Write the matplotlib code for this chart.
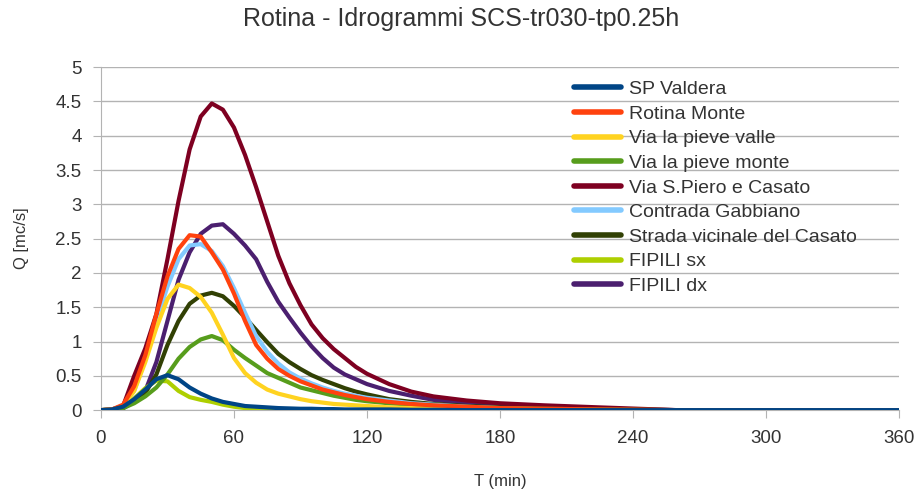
import numpy as np
import matplotlib
matplotlib.use("Agg")
import matplotlib.pyplot as plt
from matplotlib.ticker import FuncFormatter

plt.rcParams['font.family'] = ['Liberation Sans', 'DejaVu Sans']

# -----------------------------
# Dati
# -----------------------------
t_min = [0, 5, 10, 15, 20, 25, 30, 35, 40, 45, 50, 55, 60, 65, 70, 75, 80,
         85, 90, 95, 100, 105, 110, 115, 120, 130, 140, 150, 165, 180, 200, 225, 260, 300, 360]

sp_valdera = [0, 0.01, 0.05, 0.16, 0.30, 0.45, 0.51, 0.45, 0.33, 0.24, 0.17, 0.12, 0.09, 0.06, 0.05, 0.04, 0.03,
              0.025, 0.02, 0.02, 0.015, 0.015, 0.01, 0.01, 0.01, 0.01, 0.005, 0.005, 0, 0, 0, 0, 0, 0, 0]
rotina_monte = [0, 0.01, 0.08, 0.35, 0.80, 1.40, 1.95, 2.35, 2.55, 2.53, 2.30, 2.05, 1.70, 1.30, 0.95, 0.75, 0.60,
                0.50, 0.42, 0.36, 0.30, 0.26, 0.22, 0.19, 0.16, 0.12, 0.09, 0.07, 0.05, 0.03, 0.02, 0.01, 0, 0, 0]
pieve_valle = [0, 0.01, 0.06, 0.28, 0.70, 1.20, 1.62, 1.83, 1.78, 1.65, 1.42, 1.10, 0.76, 0.54, 0.40, 0.30, 0.24,
               0.20, 0.16, 0.13, 0.11, 0.09, 0.08, 0.07, 0.06, 0.04, 0.03, 0.02, 0.01, 0, 0, 0, 0, 0, 0]
pieve_monte = [0, 0.005, 0.03, 0.10, 0.20, 0.33, 0.52, 0.75, 0.92, 1.03, 1.08, 1.02, 0.88, 0.76, 0.65, 0.54, 0.47,
               0.40, 0.33, 0.29, 0.25, 0.21, 0.18, 0.15, 0.13, 0.10, 0.08, 0.06, 0.04, 0.03, 0.02, 0.01, 0, 0, 0]
spiero_casato = [0, 0.01, 0.06, 0.50, 0.90, 1.40, 2.20, 3.05, 3.80, 4.28, 4.47, 4.38, 4.12, 3.72, 3.25, 2.75, 2.25,
                 1.85, 1.53, 1.25, 1.05, 0.89, 0.76, 0.63, 0.53, 0.38, 0.27, 0.20, 0.14, 0.10, 0.07, 0.04, 0, 0, 0]
contrada_gabbiano = [0, 0.01, 0.06, 0.28, 0.75, 1.30, 1.80, 2.20, 2.40, 2.42, 2.32, 2.10, 1.78, 1.42, 1.08, 0.85, 0.68,
                     0.55, 0.46, 0.39, 0.33, 0.28, 0.24, 0.21, 0.18, 0.14, 0.10, 0.08, 0.05, 0.03, 0.02, 0.01, 0, 0, 0]
strada_casato = [0, 0.005, 0.03, 0.12, 0.25, 0.52, 0.95, 1.30, 1.55, 1.67, 1.71, 1.66, 1.52, 1.35, 1.17, 0.99, 0.82,
                 0.70, 0.60, 0.51, 0.44, 0.38, 0.32, 0.27, 0.23, 0.16, 0.12, 0.09, 0.06, 0.04, 0.02, 0.01, 0, 0, 0]
fipili_sx = [0, 0.01, 0.06, 0.17, 0.32, 0.43, 0.42, 0.28, 0.19, 0.15, 0.12, 0.08, 0.05, 0.03, 0.02, 0.01, 0.01,
             0.005, 0.005, 0, 0, 0, 0, 0, 0, 0, 0, 0, 0, 0, 0, 0, 0, 0, 0]
fipili_dx = [0, 0.005, 0.03, 0.12, 0.28, 0.70, 1.30, 1.90, 2.30, 2.57, 2.69, 2.71, 2.57, 2.40, 2.20, 1.87, 1.58,
             1.35, 1.13, 0.93, 0.76, 0.62, 0.52, 0.45, 0.38, 0.28, 0.21, 0.15, 0.10, 0.07, 0.04, 0.02, 0, 0, 0]

nomi = ['SP Valdera', 'Rotina Monte', 'Via la pieve valle', 'Via la pieve monte',
        'Via S.Piero e Casato', 'Contrada Gabbiano', 'Strada vicinale del Casato',
        'FIPILI sx', 'FIPILI dx']
serie = [sp_valdera, rotina_monte, pieve_valle, pieve_monte, spiero_casato,
         contrada_gabbiano, strada_casato, fipili_sx, fipili_dx]
colori = ['#004586', '#ff420e', '#ffd320', '#579d1c', '#7e0021',
          '#83caff', '#314004', '#aecf00', '#4b1f6f']

# -----------------------------
# Grafico
# -----------------------------
fig = plt.figure(figsize=(9.22, 4.90), dpi=100)
ax = fig.add_axes([0.1095, 0.163, 0.8655, 0.700])

n = len(serie)
for i, (y, nome, col) in enumerate(zip(serie, nomi, colori)):
    ax.plot(t_min, y, color=col, lw=3.0, label=nome, zorder=3 + n - i,
            solid_joinstyle='round', solid_capstyle='round')

ax.set_xlim(0, 360)
ax.set_ylim(0, 5)
ax.set_xticks(range(0, 361, 60))
ax.set_yticks(np.arange(0, 5.01, 0.5))
ax.yaxis.set_major_formatter(FuncFormatter(lambda v, p: '%g' % v))
ax.grid(axis='y', color='#b3b3b3', lw=1.0)
ax.set_axisbelow(True)
for lato in ['top', 'right']:
    ax.spines[lato].set_visible(False)
for lato in ['left', 'bottom']:
    ax.spines[lato].set_color('#b3b3b3')
ax.tick_params(colors='#b3b3b3', labelcolor='#333333', labelsize=13.5, length=6, pad=8)
ax.tick_params(axis='x', pad=8)

ax.set_xlabel('T (min)', fontsize=12, color='#333333', labelpad=20)
ax.set_ylabel('Q [mc/s]', fontsize=12, color='#333333', labelpad=19)
fig.suptitle('Rotina - Idrogrammi SCS-tr030-tp0.25h', fontsize=18, color='#333333', y=0.985)

leg = ax.legend(loc='upper left', bbox_to_anchor=(0.578, 0.995), frameon=False,
                fontsize=14, handlelength=2.4, labelspacing=0.36, handletextpad=0.45,
                borderaxespad=0.2)
for linea in leg.get_lines():
    linea.set_linewidth(4)
for testo in leg.get_texts():
    testo.set_color('#333333')

fig.savefig('out.png', dpi=100)
